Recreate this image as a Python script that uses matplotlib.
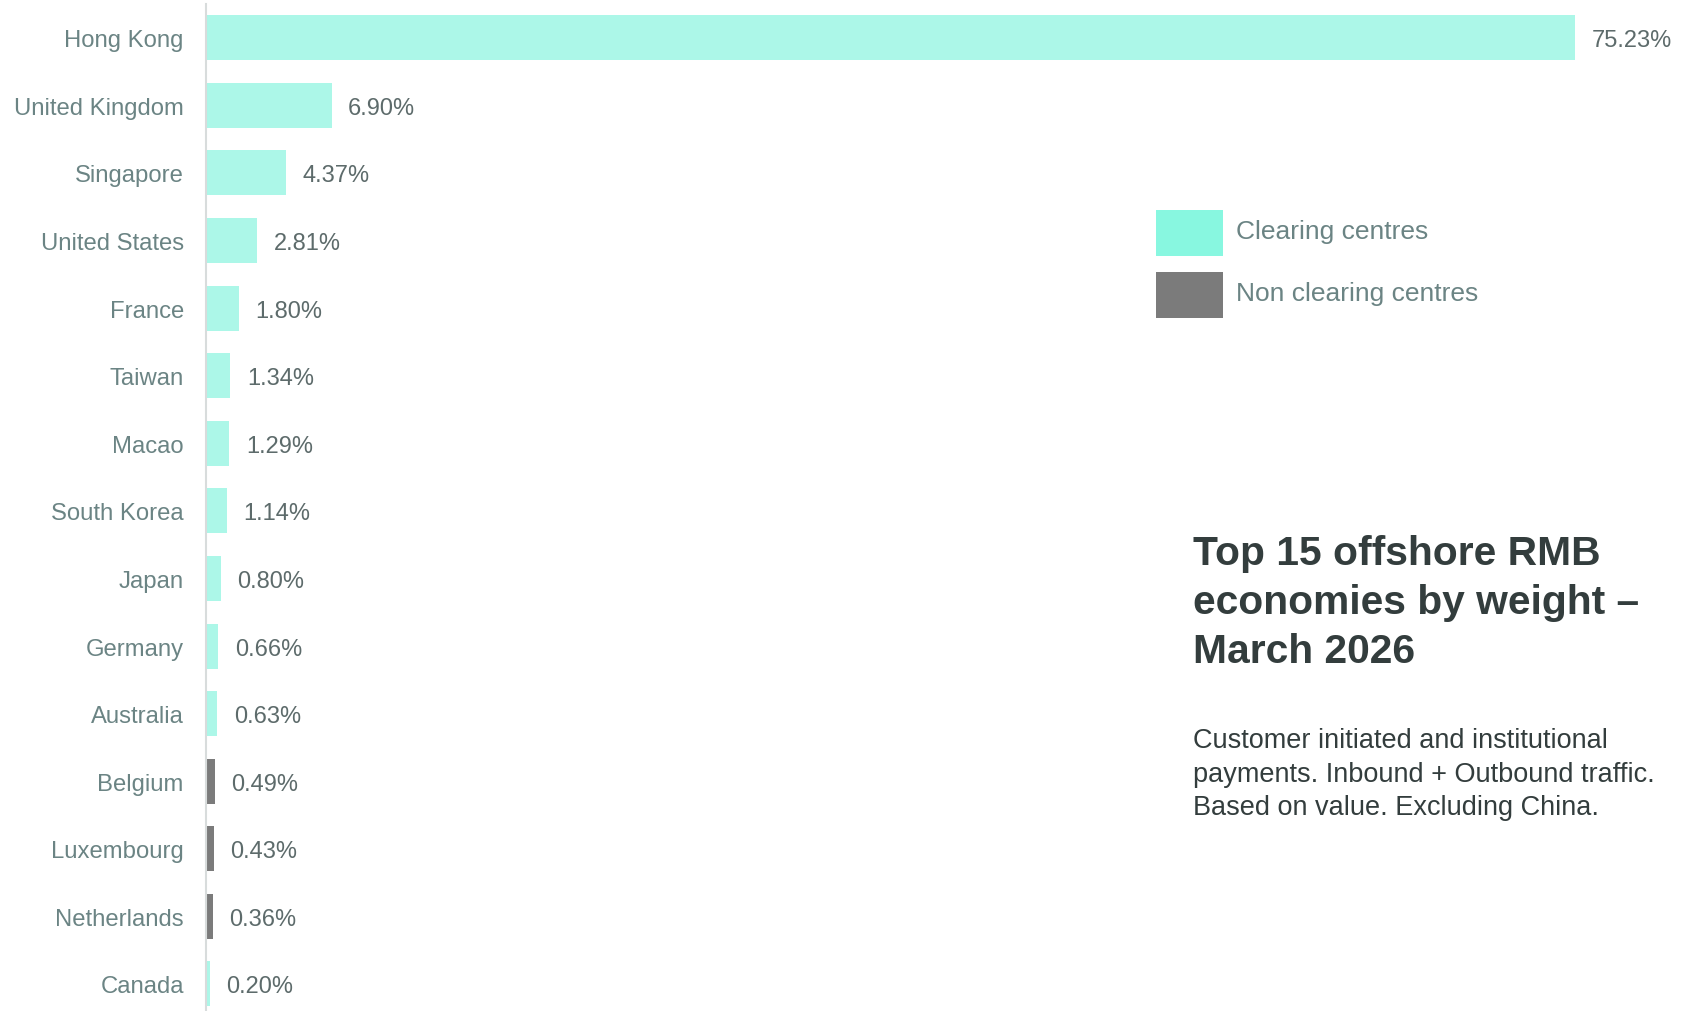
import matplotlib
matplotlib.use("Agg")
from matplotlib import pyplot as plt
from matplotlib.patches import Rectangle

plt.rcParams['font.family'] = ['Liberation Sans', 'DejaVu Sans']

countries = ["Hong Kong", "United Kingdom", "Singapore", "United States", "France",
             "Taiwan", "Macao", "South Korea", "Japan", "Germany", "Australia",
             "Belgium", "Luxembourg", "Netherlands", "Canada"]
weights = [75.23, 6.90, 4.37, 2.81, 1.80, 1.34, 1.29, 1.14, 0.80, 0.66, 0.63,
           0.49, 0.43, 0.36, 0.20]
clearing = [True, True, True, True, True, True, True, True, True, True, True,
            False, False, False, True]

bar_col = "#acf7e8"
leg_col = "#88f7e0"
non_col = "#7b7b7b"
label_col = "#6b8484"
value_col = "#5d6b6b"
dark = "#333d3d"

W, H = 1691, 1012
fig = plt.figure(figsize=(W / 100, H / 100), dpi=100)
ax = fig.add_axes([206 / W, 0, (W - 206) / W, 1 - 5 / H])

cols = [bar_col if c else non_col for c in clearing]
ypos = list(range(len(countries)))
ax.barh(ypos, weights, height=0.665, color=cols)
ax.set_ylim(14.4, -0.5)
ax.set_xlim(0, (W - 207) / 18.18)

for y, v in zip(ypos, weights):
    ax.annotate(f"{v:.2f}%", (v, y), xytext=(12, 0), textcoords="offset points",
                va="center_baseline", ha="left", fontsize=17, color=value_col)

ax.set_yticks(ypos)
ax.set_yticklabels(countries, fontsize=17.2, color=label_col)
ax.tick_params(axis="y", length=0, pad=16)
ax.set_xticks([])
for s in ["top", "right", "bottom"]:
    ax.spines[s].set_visible(False)
ax.spines["left"].set_color("#d8dcdc")
ax.spines["left"].set_linewidth(1.5)

# legend
for i, (txt, c) in enumerate([("Clearing centres", leg_col), ("Non clearing centres", non_col)]):
    top = 211 + i * 62
    fig.add_artist(Rectangle((1156 / W, 1 - (top + 46) / H), 67 / W, 46 / H,
                             transform=fig.transFigure, color=c, lw=0))
    fig.text(1236 / W, 1 - (top + 18) / H, txt, fontsize=19, color=label_col,
             va="center_baseline", ha="left")

# baseline of the last line
fig.text(1193 / W, 1 - 663 / H, "Top 15 offshore RMB\neconomies by weight –\nMarch 2026",
         fontsize=29.3, fontweight="bold", color=dark, va="baseline", ha="left",
         linespacing=1.37)
fig.text(1193 / W, 1 - 815 / H,
         "Customer initiated and institutional\npayments. Inbound + Outbound traffic.\nBased on value. Excluding China.",
         fontsize=19.5, color=dark, va="baseline", ha="left", linespacing=1.37)

fig.savefig("out.png", dpi=100, facecolor="white")
